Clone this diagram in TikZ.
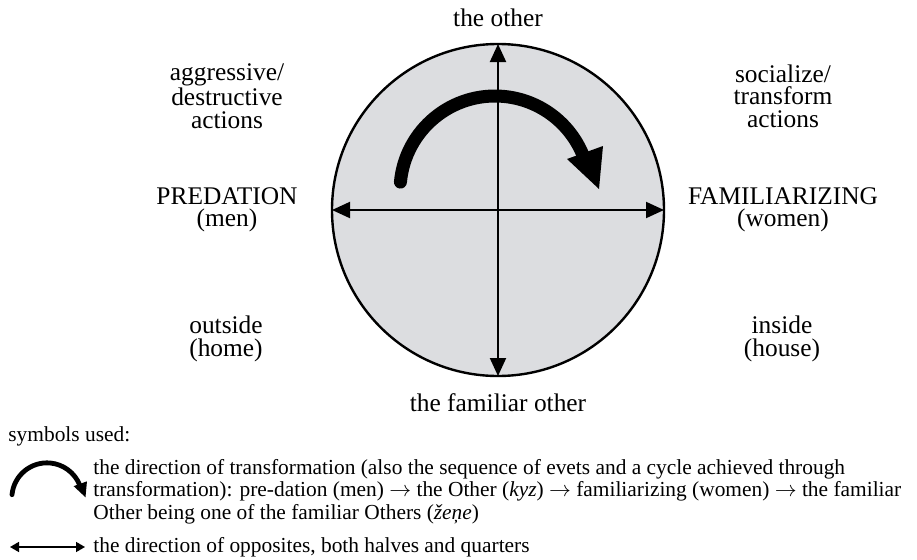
\documentclass[tikz,border=0pt]{standalone}
\usepackage{fontspec}
\setmainfont{Liberation Serif}
\usetikzlibrary{arrows.meta}
\definecolor{circfill}{RGB}{220,221,224}
\begin{document}
\begin{tikzpicture}[x=0.5pt,y=0.5pt,
  lbl/.style={font=\fontsize{12.7}{11.2}\selectfont, align=center, inner sep=0pt},
  leg/.style={font=\fontsize{10.7}{11.2}\selectfont, align=left, inner sep=0pt},
  axis/.style={line width=1pt, {Triangle[length=9pt,width=8pt]}-{Triangle[length=9pt,width=8pt]}},
  legaxis/.style={line width=0.8pt, {Triangle[length=4.5pt,width=5pt]}-{Triangle[length=4.5pt,width=5pt]}}]
\useasboundingbox (0,0) rectangle (917,559);
% circle
\coordinate (c) at (498,349);
\draw[line width=1.2pt, fill=circfill] (c) circle[radius=166];
\coordinate (top) at (498,515);
\coordinate (bot) at (498,183);
\coordinate (left) at (332,349);
\coordinate (right) at (664,349);
\draw[axis] (left) -- (right);
\draw[axis] (bot) -- (top);
% curved arrow
\coordinate (ac) at (495,368);
\draw[line width=6.5pt, line cap=round] ([shift={(174.6:95)}]ac) arc[start angle=174.6, end angle=22, radius=95];
\fill ([shift={(72,32)}]ac) -- ([shift={(108,45)}]ac) -- ([shift={(104,2)}]ac) -- cycle;
% labels
\node[lbl, anchor=base] (other) at (498,533) {the other};
\node[lbl, anchor=base] (familiar) at (498,148) {the familiar other};
\node[lbl] (aggr) at (227,463) {aggressive/\\destructive\\actions};
\node[lbl] (social) at (783,463) {socialize/\\transform\\actions};
\node[lbl] (pred) at (227,349) {PREDATION\\(men)};
\node[lbl] (fam) at (783,349) {FAMILIARIZING\\(women)};
\node[lbl] (outside) at (226,220) {outside\\(home)};
\node[lbl] (inside) at (782,220) {inside\\(house)};
% legend
\node[leg, anchor=base west] (symb) at (8,118) {symbols used:};
\begin{scope}[shift={(47,61)}, scale=0.37]
  \coordinate (lc) at (0,0);
  \draw[line width=2.4pt, line cap=round] ([shift={(174.6:95)}]lc) arc[start angle=174.6, end angle=22, radius=95];
  \fill ([shift={(72,32)}]lc) -- ([shift={(108,45)}]lc) -- ([shift={(104,2)}]lc) -- cycle;
\end{scope}
\node[leg, anchor=north west] (legtext) at (93,100) {the direction of transformation (also the sequence of evets and a cycle achieved through\\transformation): pre-dation (men) $\rightarrow$ the Other (\textit{kyz}) $\rightarrow$ familiarizing (women) $\rightarrow$ the familiar\\Other being one of the familiar Others (\textit{žeņe})};
\coordinate (la) at (10,12);
\coordinate (lb) at (85,12);
\draw[legaxis] (la) -- (lb);
\node[leg, anchor=base west] (legtext2) at (93,7) {the direction of opposites, both halves and quarters};
\end{tikzpicture}
\end{document}
